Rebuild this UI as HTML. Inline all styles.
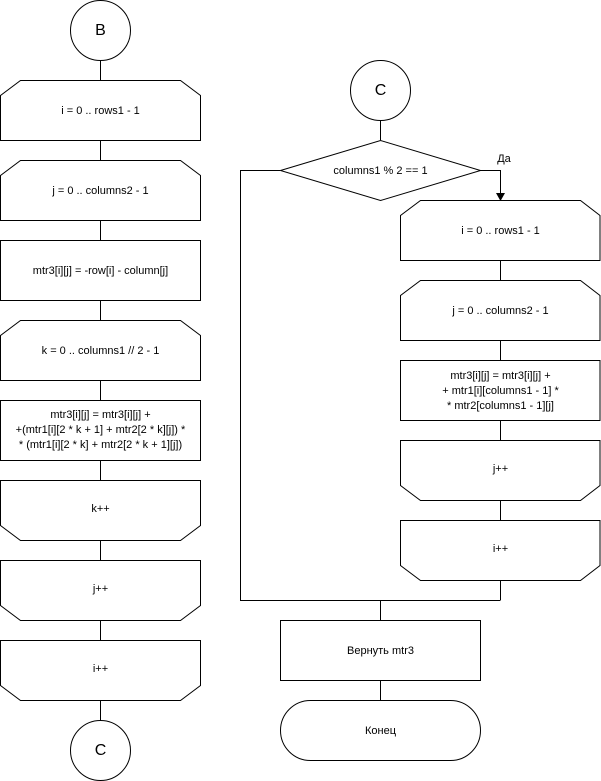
<!DOCTYPE html>
<html><head><meta charset="utf-8"><style>body{margin:0;background:#fff}svg{display:block}text{font-family:"Liberation Sans",sans-serif;font-size:11px;fill:#000;text-anchor:middle;dominant-baseline:middle}</style></head><body>
<svg width="601" height="781" viewBox="0 0 601 781" xmlns="http://www.w3.org/2000/svg">
<g fill="none" stroke="#000" stroke-width="1">
<!-- left column connectors -->
<line x1="100.5" y1="60" x2="100.5" y2="720"/>
<!-- right connectors -->
<line x1="380.5" y1="120" x2="380.5" y2="140"/>
<polyline points="280,170.5 240.5,170.5 240.5,600.5 500.5,600.5"/>
<polyline points="480,170.5 500.5,170.5 500.5,194"/>
<line x1="500.5" y1="200" x2="500.5" y2="600"/>
<line x1="380.5" y1="600" x2="380.5" y2="700"/>
</g>
<polygon points="496,193 505,193 500.5,201" fill="#000"/>
<g fill="#fff" stroke="#000" stroke-width="1">
<circle cx="100.5" cy="30.5" r="30"/>
<polygon points="20.5,80.5 180.5,80.5 200.5,95.5 200.5,140.5 0.5,140.5 0.5,95.5"/>
<polygon points="20.5,160.5 180.5,160.5 200.5,175.5 200.5,220.5 0.5,220.5 0.5,175.5"/>
<rect x="0.5" y="240.5" width="200" height="60"/>
<polygon points="20.5,320.5 180.5,320.5 200.5,335.5 200.5,380.5 0.5,380.5 0.5,335.5"/>
<rect x="0.5" y="400.5" width="200" height="60"/>
<polygon points="0.5,480.5 200.5,480.5 200.5,525.5 180.5,540.5 20.5,540.5 0.5,525.5"/>
<polygon points="0.5,560.5 200.5,560.5 200.5,605.5 180.5,620.5 20.5,620.5 0.5,605.5"/>
<polygon points="0.5,640.5 200.5,640.5 200.5,685.5 180.5,700.5 20.5,700.5 0.5,685.5"/>
<circle cx="100.5" cy="750.5" r="30"/>
<circle cx="380.5" cy="90.5" r="30"/>
<polygon points="280.5,170.5 380.5,140.5 480.5,170.5 380.5,200.5"/>
<polygon points="420.5,200.5 580.5,200.5 600,215.5 600,260.5 400.5,260.5 400.5,215.5"/>
<polygon points="420.5,280.5 580.5,280.5 600,295.5 600,340.5 400.5,340.5 400.5,295.5"/>
<rect x="400.5" y="360.5" width="199.5" height="60"/>
<polygon points="400.5,440.5 600,440.5 600,485.5 580.5,500.5 420.5,500.5 400.5,485.5"/>
<polygon points="400.5,520.5 600,520.5 600,565.5 580.5,580.5 420.5,580.5 400.5,565.5"/>
<rect x="280.5" y="620.5" width="200" height="60"/>
<rect x="280.5" y="700.5" width="200" height="60" rx="30" ry="30"/>
</g>
<text x="100.5" y="31" style="font-size:16px">B</text>
<text x="100.5" y="111">i = 0 .. rows1 - 1</text>
<text x="100.5" y="191">j = 0 .. columns2 - 1</text>
<text x="100.5" y="271">mtr3[i][j] = -row[i] - column[j]</text>
<text x="100.5" y="351">k = 0 .. columns1 // 2 - 1</text>
<text x="100.5" y="415">mtr3[i][j] = mtr3[i][j] +</text>
<text x="100.5" y="430">+(mtr1[i][2 * k + 1] + mtr2[2 * k][j]) *</text>
<text x="100.5" y="445">* (mtr1[i][2 * k] + mtr2[2 * k + 1][j])</text>
<text x="100.5" y="509">k++</text>
<text x="100.5" y="589">j++</text>
<text x="100.5" y="669">i++</text>
<text x="100.5" y="751" style="font-size:16px">C</text>
<text x="380.5" y="91" style="font-size:16px">C</text>
<text x="380.5" y="171">columns1 % 2 == 1</text>
<text x="504" y="159">Да</text>
<text x="500.5" y="231">i = 0 .. rows1 - 1</text>
<text x="500.5" y="311">j = 0 .. columns2 - 1</text>
<text x="500.5" y="376">mtr3[i][j] = mtr3[i][j] +</text>
<text x="500.5" y="391">+ mtr1[i][columns1 - 1] *</text>
<text x="500.5" y="406">* mtr2[columns1 - 1][j]</text>
<text x="500.5" y="469">j++</text>
<text x="500.5" y="549">i++</text>
<text x="380.5" y="651">Вернуть mtr3</text>
<text x="380.5" y="731">Конец</text>
</svg>
</body></html>
